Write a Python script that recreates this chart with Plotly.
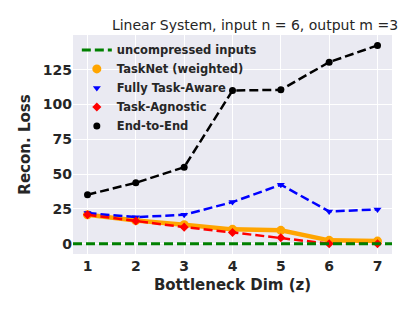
import plotly.graph_objects as go

z = [1, 2, 3, 4, 5, 6, 7]
uncompressed = 0.0
tasknet = [20.8, 16.7, 13.6, 10.3, 9.6, 2.4, 1.9]
fully_aware = [22.0, 19.1, 20.8, 29.9, 42.4, 23.2, 24.6]
agnostic = [20.8, 16.3, 11.9, 8.1, 4.3, 0.0, 0.0]
end_to_end = [35.2, 43.8, 55.0, 110.1, 110.6, 130.5, 142.5]

x_ticks = [1, 2, 3, 4, 5, 6, 7]
y_ticks = [0, 25, 50, 75, 100, 125]

TXT = "#262626"
FONT = "DejaVu Sans"
OFF = 8  # default page body margin

fig = go.Figure()

series = [
    ("TaskNet (weighted)", tasknet, "#FFA500", "solid", 4.5, "circle", 9),
    ("Fully Task-Aware", fully_aware, "#0000FF", "9px,4px", 2.5, "triangle-down", 7),
    ("Task-Agnostic", agnostic, "#FF0000", "9px,4px", 2.5, "diamond", 7),
    ("End-to-End", end_to_end, "#000000", "9px,4px", 2.5, "circle", 7),
]

for i, (name, vals, col, dash, lw, sym, ms) in enumerate(series):
    fig.add_trace(go.Scatter(
        x=z, y=vals, mode="lines", line=dict(color=col, width=lw, dash=dash),
        showlegend=False, hoverinfo="skip", cliponaxis=False))
    fig.add_trace(go.Scatter(
        x=z, y=vals, mode="markers", name=name, legendrank=10 + i,
        marker=dict(color=col, symbol=sym, size=ms, line=dict(width=0)),
        cliponaxis=False))

fig.add_shape(
    type="line", xref="x domain", x0=0, x1=1, yref="y", y0=uncompressed, y1=uncompressed,
    line=dict(color="#008000", width=3, dash="9px,4px"), layer="above",
    showlegend=True, name="uncompressed inputs", legendrank=1)

W, H = 415 - OFF, 311 - OFF
fig.update_layout(
    width=W, height=H,
    margin=dict(l=73 - OFF, r=23, t=35 - OFF, b=57, pad=0, autoexpand=False),
    paper_bgcolor="white", plot_bgcolor="#EAEAF2",
    font=dict(family=FONT, color=TXT, size=14),
    title=dict(text="Linear System, input n = 6, output m =3",
               font=dict(family=FONT, size=14, color=TXT),
               xref="container", x=(255 - OFF) / W, xanchor="center",
               yref="container", y=1 - (25 - OFF) / H, yanchor="middle"),
    legend=dict(x=0.012, y=0.998, xanchor="left", yanchor="top",
                bgcolor="rgba(0,0,0,0)", borderwidth=0,
                font=dict(family=FONT, size=11.5, color=TXT, weight="bold"),
                itemwidth=30, tracegroupgap=0),
    showlegend=True,
)

fig.update_xaxes(
    range=[0.7, 7.3], tickvals=x_ticks, ticktext=[str(v) for v in x_ticks],
    showgrid=True, gridcolor="white", gridwidth=1, zeroline=False, showline=False,
    ticks="", ticklabelstandoff=2,
    tickfont=dict(family=FONT, size=14, color=TXT, weight="bold"),
    title=dict(text="Bottleneck Dim (z)", standoff=6,
               font=dict(family=FONT, size=15, color=TXT, weight="bold")),
)
fig.update_yaxes(
    range=[-7.4, 150.0], tickvals=y_ticks, ticktext=[str(v) for v in y_ticks],
    showgrid=True, gridcolor="white", gridwidth=1, zeroline=False, showline=False,
    ticks="",
    tickfont=dict(family=FONT, size=14, color=TXT, weight="bold"),
    title=dict(text="Recon. Loss", standoff=8,
               font=dict(family=FONT, size=15, color=TXT, weight="bold")),
)

fig.write_html("out.html")
